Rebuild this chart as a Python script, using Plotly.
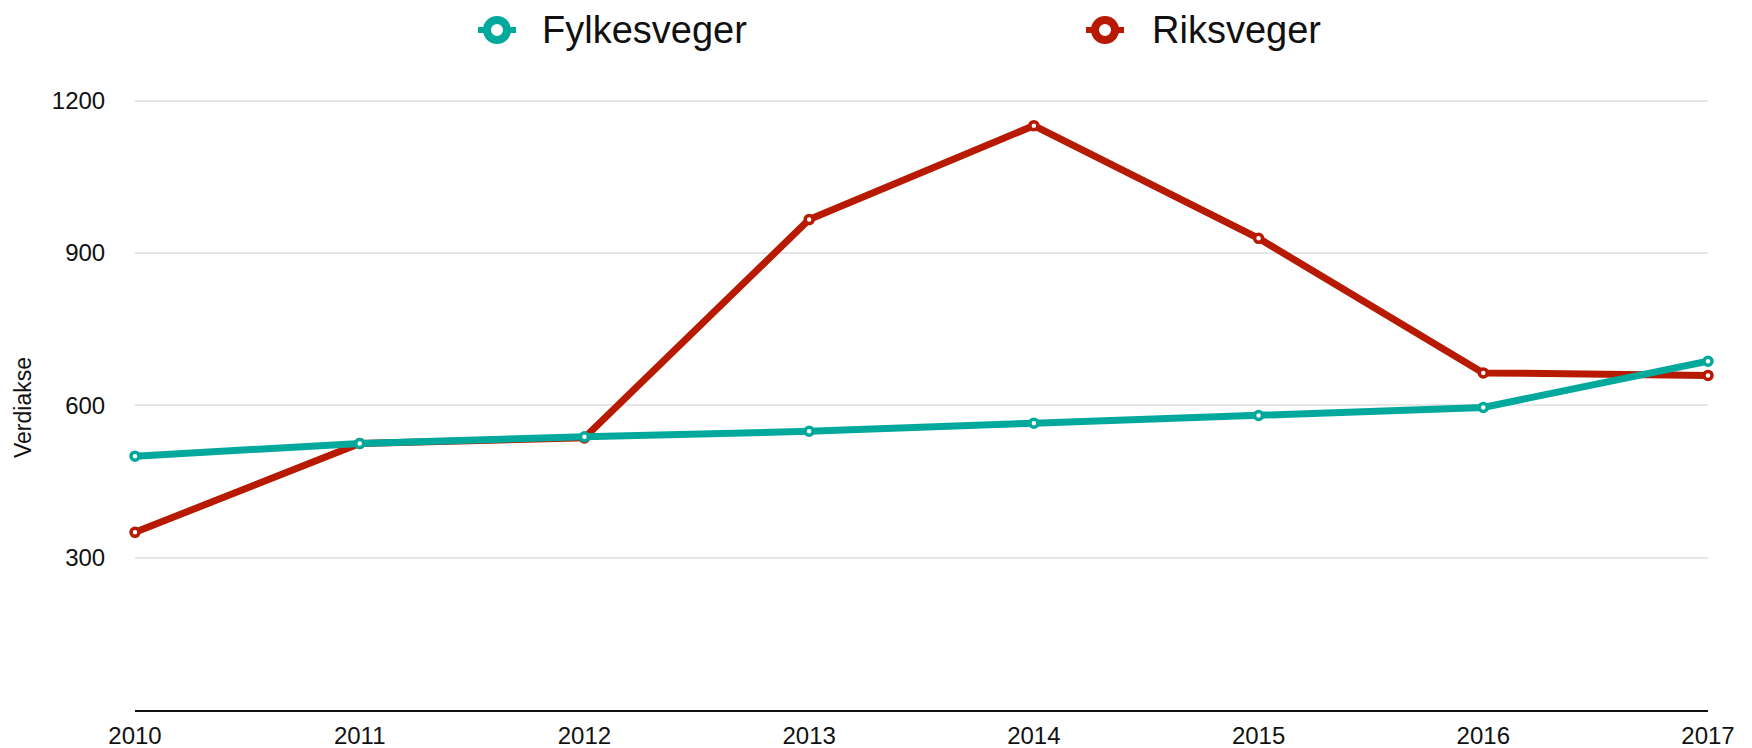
import plotly.graph_objects as go

years = [2010, 2011, 2012, 2013, 2014, 2015, 2016, 2017]
fylkesveger = [500, 525, 538, 549, 565, 580, 596, 687]
riksveger = [350, 525, 536, 966, 1151, 929, 664, 659]
y_ticks = [300, 600, 900, 1200]
series_names = ["Fylkesveger", "Riksveger"]
y_title = "Verdiakse"

TEAL = "#00A99C"
RED = "#B71A00"
FONT = "Liberation Sans, Arial, sans-serif"

# the page body adds an 8px margin, so the figure is sized/offset to compensate
OFF = 8
W, H = 1752 - OFF, 748 - OFF
L, R, T, B = 135 - OFF, 44, 50 - OFF, 38
pw, ph = W - L - R, H - T - B

fig = go.Figure()

fig.add_trace(go.Scatter(
    x=years, y=riksveger, mode="lines+markers", name=series_names[1],
    line=dict(color=RED, width=7),
    marker=dict(size=8, color="white", line=dict(color=RED, width=3.5)),
    showlegend=False, cliponaxis=False,
))
fig.add_trace(go.Scatter(
    x=years, y=fylkesveger, mode="lines+markers", name=series_names[0],
    line=dict(color=TEAL, width=7),
    marker=dict(size=8, color="white", line=dict(color=TEAL, width=3.5)),
    showlegend=False, cliponaxis=False,
))

# custom legend: ring symbols + text placed above the plot area
legend_y = (H - B - (30 - OFF)) / ph
legend_items = [(series_names[0], TEAL, 497 - OFF, 540 - OFF),
                (series_names[1], RED, 1105 - OFF, 1150 - OFF)]
for name, col, ring_px, text_px in legend_items:
    xc = (ring_px - L) / pw
    fig.add_shape(type="line", xref="paper", yref="paper",
                  xsizemode="pixel", ysizemode="pixel", xanchor=xc, yanchor=legend_y,
                  x0=-19, x1=19, y0=0, y1=0, line=dict(color=col, width=6), layer="above")
    fig.add_shape(type="circle", xref="paper", yref="paper",
                  xsizemode="pixel", ysizemode="pixel", xanchor=xc, yanchor=legend_y,
                  x0=-10, x1=10, y0=-10, y1=10,
                  fillcolor="white", line=dict(color=col, width=8), layer="above")
    fig.add_annotation(text=name, xref="paper", yref="paper",
                       x=(text_px - L) / pw, y=legend_y, xanchor="left", yanchor="middle",
                       showarrow=False, font=dict(size=38, family=FONT, color="#111111"))

# y-axis title (placed as rotated text, as in the reference)
fig.add_annotation(text=y_title, xref="paper", yref="paper",
                   x=(23 - OFF - L) / pw, y=(H - B - (407 - OFF)) / ph,
                   xanchor="center", yanchor="middle", textangle=-90, showarrow=False,
                   font=dict(size=23, family=FONT, color="#111111"))

fig.update_layout(
    width=W, height=H,
    margin=dict(l=L, r=R, t=T, b=B),
    paper_bgcolor="white", plot_bgcolor="white",
    font=dict(family=FONT, color="#222222"),
    showlegend=False,
    xaxis=dict(
        range=[2010, 2017], tickmode="array", tickvals=years,
        ticktext=[str(y) for y in years],
        showgrid=False, zeroline=False, automargin=False,
        showline=True, linecolor="#111111", linewidth=2,
        ticks="outside", ticklen=3, tickcolor="rgba(0,0,0,0)",
        tickfont=dict(size=24, family=FONT, color="#111111"),
    ),
    yaxis=dict(
        range=[0, 1300], tickmode="array", tickvals=y_ticks,
        showgrid=True, gridcolor="#E6E6E6", gridwidth=2,
        zeroline=False, showline=False, automargin=False,
        ticks="outside", ticklen=24, tickcolor="rgba(0,0,0,0)",
        tickfont=dict(size=24, family=FONT, color="#111111"),
    ),
)

fig.write_html("out.html")
